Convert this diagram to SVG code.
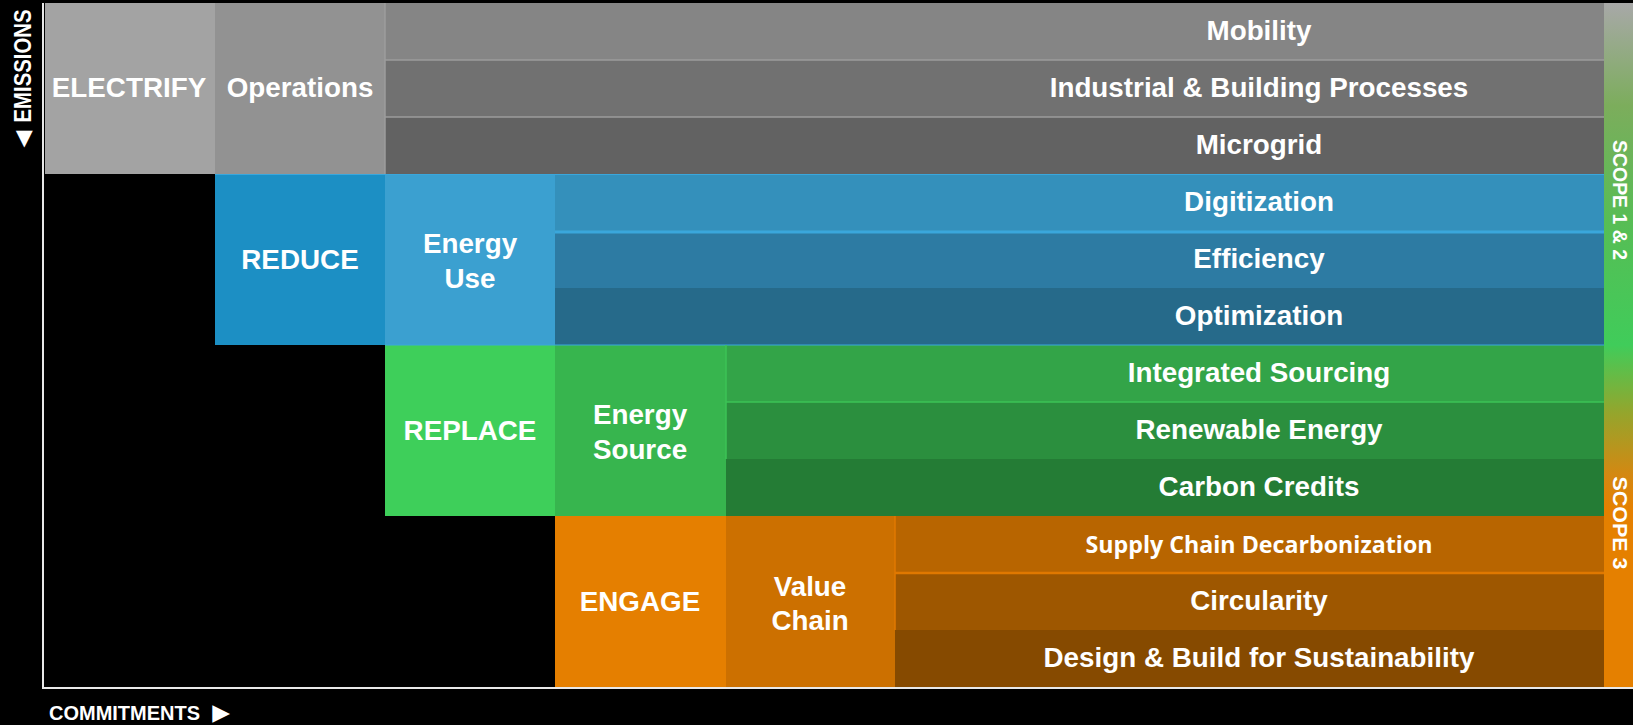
<svg xmlns="http://www.w3.org/2000/svg" width="1633" height="725" viewBox="0 0 1633 725">
<defs>
<linearGradient id="scope" x1="0" y1="3" x2="0" y2="687" gradientUnits="userSpaceOnUse">
<stop offset="0" stop-color="#a8a8a8"/>
<stop offset="0.15" stop-color="#7cad5c"/>
<stop offset="0.32" stop-color="#57bd55"/>
<stop offset="0.5" stop-color="#40cc5a"/>
<stop offset="0.6" stop-color="#95a52c"/>
<stop offset="0.69" stop-color="#d48812"/>
<stop offset="0.74" stop-color="#e58000"/>
<stop offset="1" stop-color="#e58000"/>
</linearGradient>
<style>
text{font-family:"Liberation Sans",Arial,sans-serif;font-weight:bold;fill:#ffffff;text-anchor:middle;}
.t{font-size:27.8px;}
.sc{font-size:21px;}
.cal{font-family:"Open Sans","Noto Sans",sans-serif;font-size:23px;font-weight:bold;}
.tri{font-family:"DejaVu Sans",sans-serif;}
.sepg{stroke:#9c9c9c;stroke-width:1.5;}
.sepb{stroke:#3aa7dc;stroke-width:3;}
.sepgr{stroke:#3cc356;stroke-width:1.5;}
.sepo{stroke:#e07800;stroke-width:2.5;}
</style>
</defs>
<rect x="0" y="0" width="1633" height="725" fill="#000000"/>

<g id="scope-bar">
<rect x="1604" y="3" width="29" height="684" fill="url(#scope)"/>
<text class="sc" transform="translate(1620,200) rotate(90)" x="0" y="7.5" textLength="120" lengthAdjust="spacingAndGlyphs">SCOPE 1 &amp; 2</text>
<text class="sc" transform="translate(1620,523) rotate(90)" x="0" y="7.5" textLength="93" lengthAdjust="spacingAndGlyphs">SCOPE 3</text>
</g>

<g id="electrify">
<rect x="45" y="3" width="170" height="171" fill="#a3a3a3"/>
<text class="t" x="129" y="97">ELECTRIFY</text>
</g>
<g id="operations">
<rect x="215" y="3" width="170" height="171" fill="#929292"/>
<text class="t" x="300" y="97">Operations</text>
</g>
<g id="mobility">
<rect x="385" y="3" width="1219" height="57" fill="#858585"/>
<text class="t" x="1259" y="40">Mobility</text>
</g>
<g id="industrial">
<rect x="385" y="60" width="1219" height="57" fill="#717171"/>
<text class="t" x="1259" y="97">Industrial &amp; Building Processes</text>
</g>
<g id="microgrid">
<rect x="385" y="117" width="1219" height="57" fill="#626262"/>
<text class="t" x="1259" y="154">Microgrid</text>
</g>

<g id="reduce">
<rect x="215" y="174" width="170" height="171" fill="#1c8fc4"/>
<text class="t" x="300" y="269">REDUCE</text>
</g>
<g id="energy-use">
<rect x="385" y="174" width="170" height="171" fill="#3ba0d0"/>
<text class="t" x="470" y="253">Energy</text>
<text class="t" x="470" y="288">Use</text>
</g>
<g id="digitization">
<rect x="555" y="174" width="1049" height="57" fill="#3490bb"/>
<text class="t" x="1259" y="211">Digitization</text>
</g>
<g id="efficiency">
<rect x="555" y="231" width="1049" height="57" fill="#2d7ba3"/>
<text class="t" x="1259" y="268">Efficiency</text>
</g>
<g id="optimization">
<rect x="555" y="288" width="1049" height="57" fill="#266a8a"/>
<text class="t" x="1259" y="325">Optimization</text>
</g>

<g id="replace">
<rect x="385" y="345" width="170" height="171" fill="#3ecf5a"/>
<text class="t" x="470" y="440">REPLACE</text>
</g>
<g id="energy-source">
<rect x="555" y="345" width="171" height="171" fill="#37b54e"/>
<text class="t" x="640" y="424">Energy</text>
<text class="t" x="640" y="459">Source</text>
</g>
<g id="integrated-sourcing">
<rect x="726" y="345" width="878" height="57" fill="#33a448"/>
<text class="t" x="1259" y="382">Integrated Sourcing</text>
</g>
<g id="renewable-energy">
<rect x="726" y="402" width="878" height="57" fill="#2b8f3e"/>
<text class="t" x="1259" y="439">Renewable Energy</text>
</g>
<g id="carbon-credits">
<rect x="726" y="459" width="878" height="57" fill="#247c35"/>
<text class="t" x="1259" y="496">Carbon Credits</text>
</g>

<g id="engage">
<rect x="555" y="516" width="171" height="171" fill="#e57f00"/>
<text class="t" x="640" y="611">ENGAGE</text>
</g>
<g id="value-chain">
<rect x="726" y="516" width="169" height="171" fill="#cc7000"/>
<text class="t" x="810" y="596">Value</text>
<text class="t" x="810" y="630">Chain</text>
</g>
<g id="supply-chain">
<rect x="895" y="516" width="709" height="57" fill="#b86500"/>
<text class="cal" x="1259" y="553" textLength="347" lengthAdjust="spacingAndGlyphs">Supply Chain Decarbonization</text>
</g>
<g id="circularity">
<rect x="895" y="573" width="709" height="57" fill="#9e5700"/>
<text class="t" x="1259" y="610">Circularity</text>
</g>
<g id="design-build">
<rect x="895" y="630" width="709" height="57" fill="#864a00"/>
<text class="t" x="1259" y="667">Design &amp; Build for Sustainability</text>
</g>

<g id="connectors">
<line class="sepg" x1="385" y1="60" x2="1604" y2="60"/>
<line class="sepg" x1="385" y1="117" x2="1604" y2="117"/>
<line class="sepg" x1="385" y1="3" x2="385" y2="174"/>
<line class="sepb" x1="555" y1="232" x2="1604" y2="232"/>
<line x1="215" y1="174.5" x2="1604" y2="174.5" stroke="#3aa7dc" stroke-width="1"/>
<line x1="385" y1="345" x2="1604" y2="345" stroke="#3aa7dc" stroke-width="1"/>
<line class="sepgr" x1="726" y1="402" x2="1604" y2="402"/>
<line class="sepgr" x1="726" y1="345" x2="726" y2="459"/>
<line class="sepo" x1="895" y1="573" x2="1604" y2="573"/>
<line x1="895" y1="516" x2="895" y2="630" stroke="#e07800" stroke-width="1.5"/>
<line x1="43" y1="3" x2="43" y2="688" stroke="#e8e8e8" stroke-width="2"/>
<line x1="42" y1="688" x2="1633" y2="688" stroke="#e8e8e8" stroke-width="2"/>
</g>

<g id="axis-labels">
<text transform="translate(22,66) rotate(-90)" x="0" y="8.5" textLength="113" lengthAdjust="spacingAndGlyphs" style="font-size:23px">EMISSIONS</text>
<text class="tri" transform="translate(22,139) rotate(-90)" x="0" y="8" style="font-size:22px">◀</text>
<text x="49" y="720" style="text-anchor:start;font-size:19.5px" textLength="151" lengthAdjust="spacingAndGlyphs">COMMITMENTS</text>
<text class="tri" x="221" y="719.5" style="font-size:23px">▶</text>
</g>
</svg>
